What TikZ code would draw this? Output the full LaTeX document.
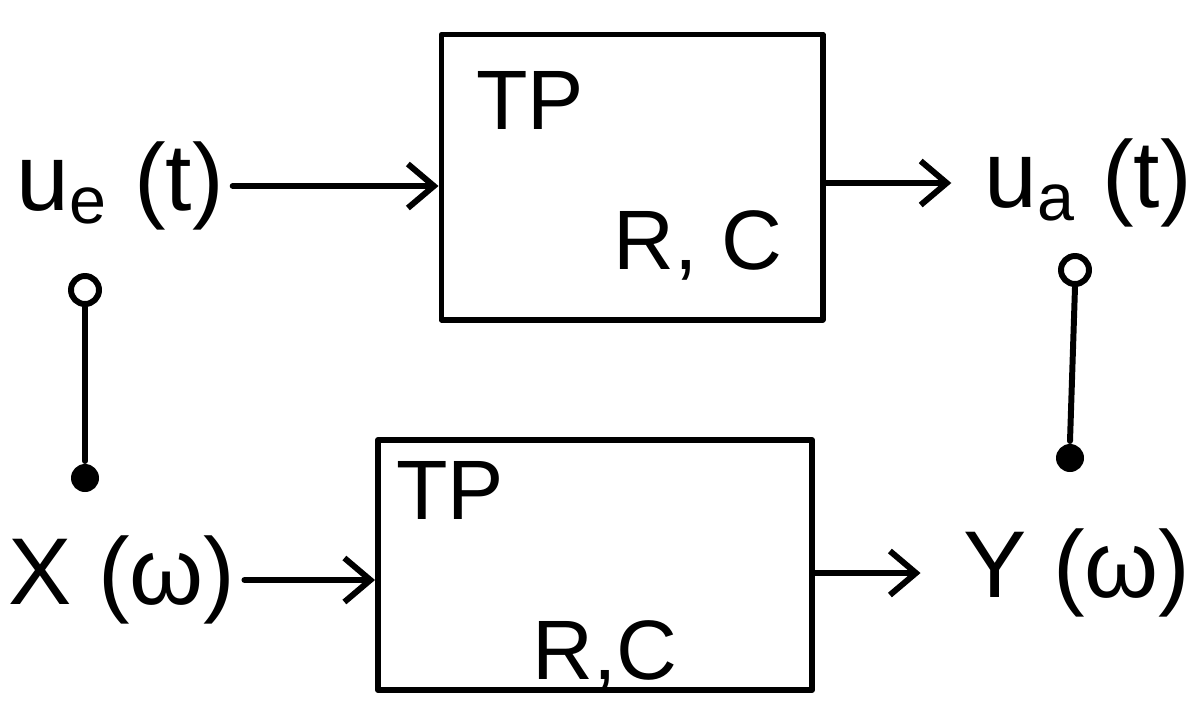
\documentclass[tikz,border=0pt]{standalone}
\usepackage{fontspec}
\setmainfont{Liberation Sans}
\usetikzlibrary{arrows.meta}
\begin{document}
\begin{tikzpicture}[x=1cm,y=1cm,
  line width=1.7pt, line cap=round, line join=round,
  filterbox/.style={draw, minimum width=#1, inner sep=0pt},
  sig/.style={font=\fontsize{27}{31}\selectfont, inner sep=0pt},
  boxtxt/.style={font=\fontsize{24}{28}\selectfont, inner sep=0pt},
  flow/.style={-{Straight Barb[length=2.6mm,width=4.4mm,line width=1.7pt]}},
  opendot/.style={circle, draw, minimum size=0.28cm, inner sep=0pt},
  fulldot/.style={circle, fill, minimum size=0.28cm, inner sep=0pt}]
\useasboundingbox (0,0) rectangle (12.01,7.03);

% time-domain low-pass (top)
\node[filterbox=3.81cm, minimum height=2.85cm] (tbox) at (6.32,5.26) {};
\node[boxtxt] (ttp) at (5.30,6.03) {TP};
\node[boxtxt] (trc) at (6.98,4.58) {R, C};
\node[sig] (ue) at (1.20,5.17) {u\textsubscript{e} (t)};
\node[sig] (ua) at (10.88,5.20) {u\textsubscript{a} (t)};
\draw[flow, shorten <=0.06cm] (ue.east) -- (tbox.west |- ue.east);
\draw[flow, shorten >=0.3cm] (tbox.east |- ua.west) -- (ua.west);

% frequency-domain low-pass (bottom)
\node[filterbox=4.34cm, minimum height=2.50cm] (bbox) at (5.95,1.38) {};
\node[boxtxt] (btp) at (4.50,2.13) {TP};
\node[boxtxt] (brc) at (6.05,0.48) {R,C};
\node[sig] (xw) at (1.22,1.23) {X (ω)};
\node[sig] (yw) at (10.77,1.30) {Y (ω)};
\draw[flow, shorten <=0.06cm] (xw.east) -- (bbox.west |- xw.east);
\draw[flow, shorten >=0.4cm] (bbox.east |- yw.west) -- (yw.west);

% correspondences between time and frequency signals
\node[opendot] (lo) at (0.85,4.13) {};
\node[fulldot] (lf) at (0.85,2.25) {};
\draw (lo.south) -- (lf.north);
\node[opendot] (ro) at (10.75,4.33) {};
\node[fulldot] (rf) at (10.70,2.45) {};
\draw (ro.south) -- (rf.north);
\end{tikzpicture}
\end{document}
